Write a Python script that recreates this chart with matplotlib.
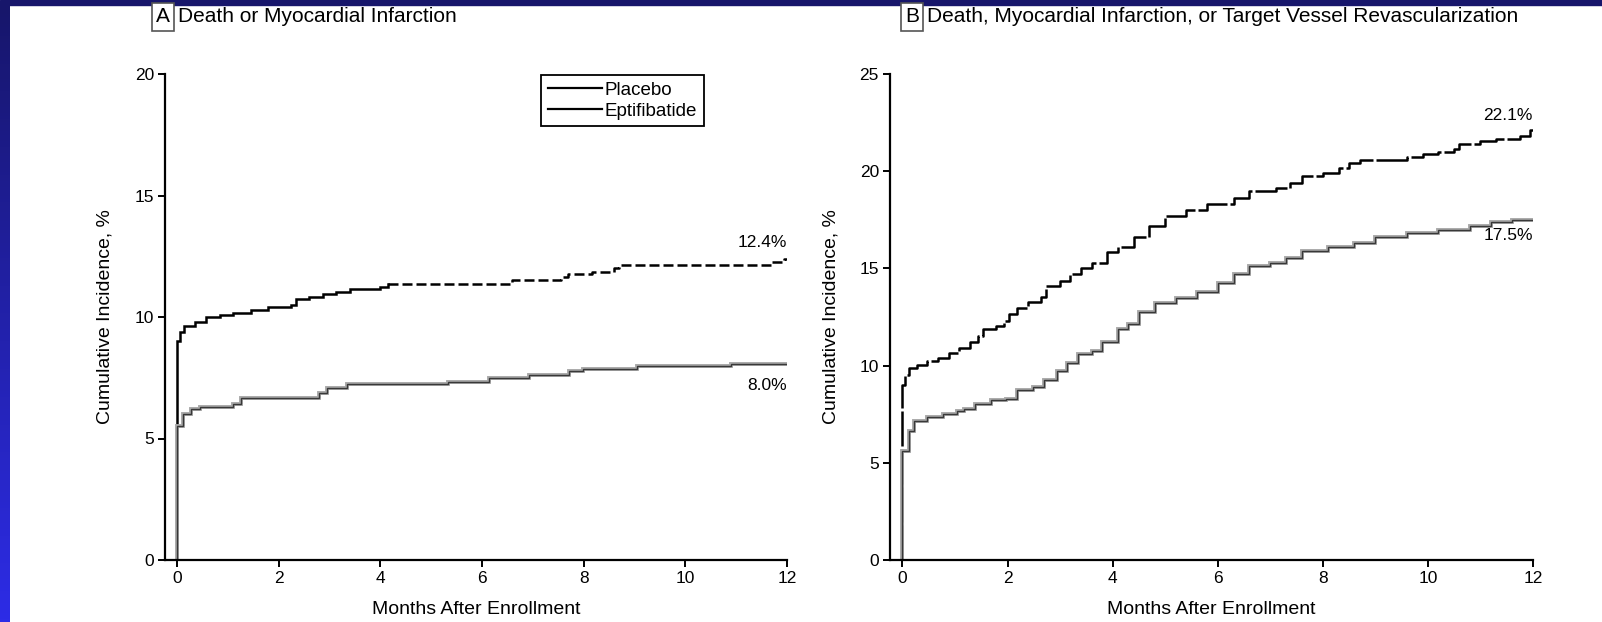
import numpy as np
import matplotlib
matplotlib.use("Agg")
import matplotlib.pyplot as plt
from matplotlib.lines import Line2D
from matplotlib.patches import Rectangle
from matplotlib.colors import LinearSegmentedColormap

plt.rcParams["font.family"] = ["Liberation Sans", "DejaVu Sans"]

# Panel A: death or myocardial infarction (months, cumulative %)
a_placebo_t = [0, 0, 0.05, 0.13, 0.35, 0.57, 0.84, 1.1, 1.46, 1.8, 2.25, 2.34, 2.6, 2.87,
               3.13, 3.4, 4.0, 4.15, 6.6, 7.55, 7.7, 8.16, 8.6, 8.7, 11.7, 11.95, 12.0]
a_placebo_y = [0, 9.0, 9.4, 9.63, 9.8, 10.0, 10.08, 10.18, 10.29, 10.4, 10.49, 10.73, 10.84, 10.95,
               11.04, 11.14, 11.22, 11.35, 11.52, 11.63, 11.77, 11.86, 12.0, 12.15, 12.25, 12.4, 12.4]
a_eptif_t = [0, 0, 0.11, 0.28, 0.45, 1.1, 1.25, 2.8, 2.96, 3.35, 5.34, 6.13, 6.93, 7.72,
             7.99, 9.05, 10.9, 12.0]
a_eptif_y = [0, 5.5, 6.0, 6.2, 6.3, 6.4, 6.65, 6.86, 7.07, 7.24, 7.34, 7.48, 7.61, 7.79,
             7.86, 7.99, 8.05, 8.05]

# Panel B: death, MI, or target vessel revascularization
b_placebo_t = [0, 0, 0.05, 0.12, 0.27, 0.47, 0.67, 0.88, 1.08, 1.28, 1.43, 1.53, 1.78, 1.93,
               2.03, 2.18, 2.39, 2.64, 2.74, 2.99, 3.19, 3.39, 3.6, 3.9, 4.1, 4.4, 4.7, 5.0,
               5.4, 5.8, 6.31, 6.6, 7.1, 7.37, 7.6, 8.0, 8.3, 8.5, 8.7, 9.6, 9.9, 10.2, 10.5,
               10.6, 11.0, 11.3, 11.75, 11.95, 12.0]
b_placebo_y = [0, 9.0, 9.53, 9.88, 10.05, 10.23, 10.4, 10.66, 10.93, 11.19, 11.5, 11.89, 12.03, 12.27,
               12.67, 12.97, 13.29, 13.55, 14.07, 14.34, 14.69, 15.03, 15.3, 15.82, 16.08, 16.6, 17.2, 17.7,
               18.0, 18.3, 18.6, 19.0, 19.13, 19.4, 19.74, 19.9, 20.17, 20.4, 20.6, 20.73, 20.87, 21.0, 21.13,
               21.39, 21.56, 21.65, 21.8, 22.1, 22.1]
b_eptif_t = [0, 0, 0.12, 0.22, 0.47, 0.78, 1.03, 1.18, 1.38, 1.68, 1.98, 2.18, 2.49, 2.69,
             2.94, 3.14, 3.34, 3.6, 3.8, 4.1, 4.3, 4.5, 4.8, 5.2, 5.6, 6.0, 6.31, 6.6, 7.0,
             7.3, 7.6, 8.1, 8.6, 9.0, 9.6, 10.2, 10.8, 11.2, 11.6, 12.0]
b_eptif_y = [0, 5.6, 6.64, 7.17, 7.34, 7.52, 7.69, 7.78, 8.04, 8.22, 8.3, 8.74, 8.92, 9.27,
             9.7, 10.14, 10.58, 10.75, 11.19, 11.89, 12.15, 12.76, 13.2, 13.46, 13.81, 14.25, 14.69, 15.12, 15.3,
             15.56, 15.9, 16.08, 16.3, 16.6, 16.8, 17.0, 17.2, 17.4, 17.5, 17.5]

W, H = 1602, 622
fig = plt.figure(figsize=(W / 100, H / 100), dpi=100)
fig.patch.set_facecolor("white")

# blue slide frame
fig.add_artist(Rectangle((0, 1 - 5 / H), 1, 5 / H, transform=fig.transFigure,
                         color="#17166b", zorder=0))
strip = fig.add_axes([0, 0, 10 / W, 1 - 5 / H])
strip.imshow(np.linspace(0, 1, 200)[:, None], aspect="auto",
             cmap=LinearSegmentedColormap.from_list("frame", ["#17166b", "#2d2ce6"]))
strip.set_axis_off()


def km(ax, t, y, **kw):
    ax.step(t, y, where="post", solid_joinstyle="miter", **kw)


def setup(ax, ymax):
    for s in ("top", "right"):
        ax.spines[s].set_visible(False)
    for s in ("left", "bottom"):
        ax.spines[s].set_linewidth(1.6)
    ax.set_xlim(-0.236, 12)
    ax.set_ylim(0, ymax)
    ax.set_xticks(range(0, 13, 2))
    ax.set_yticks(range(0, ymax + 1, 5))
    ax.tick_params(direction="out", length=5, width=1.4, labelsize=12.5, pad=3)
    ax.set_xlabel("Months After Enrollment", fontsize=14)
    ax.set_ylabel("Cumulative Incidence, %", fontsize=14)
    ax.xaxis.set_label_coords(0.5, -0.085)
    ax.patch.set_alpha(0)


axA = fig.add_axes([165 / W, 62 / H, 622 / W, 486 / H])
axB = fig.add_axes([890 / W, 62 / H, 643 / W, 486 / H])
setup(axA, 20)
setup(axB, 25)
axA.yaxis.set_label_coords(-0.082, 0.5)
axB.yaxis.set_label_coords(-0.078, 0.5)

halo = dict(color="#a8a8a8", lw=2.8)
core = dict(color="#383838", lw=1.0)

# panel A
split = 17
km(axA, a_placebo_t[:split + 1], a_placebo_y[:split + 1], color="black", lw=1.8)
km(axA, a_placebo_t[split:], a_placebo_y[split:], color="black", lw=1.8, ls=(0, (4, 1.6)))
km(axA, a_eptif_t, a_eptif_y, **halo)
km(axA, a_eptif_t, a_eptif_y, **core)
axA.text(12, 13.05, "12.4%", ha="right", va="center", fontsize=12.5)
axA.text(12, 7.2, "8.0%", ha="right", va="center", fontsize=12.5)

# panel B
km(axB, b_placebo_t, b_placebo_y, color="black", lw=1.8, ls=(0, (14, 1.2)))
km(axB, b_eptif_t, b_eptif_y, **halo)
km(axB, b_eptif_t, b_eptif_y, **core)
axB.text(12, 22.85, "22.1%", ha="right", va="center", fontsize=12.5)
axB.text(12, 16.7, "17.5%", ha="right", va="center", fontsize=12.5)

handles = [Line2D([], [], color="black", lw=1.6), Line2D([], [], color="black", lw=1.6)]
leg = axA.legend(handles, ["Placebo", "Eptifibatide"], loc="upper left",
                 bbox_to_anchor=(541 / W, 1 - 75 / H), bbox_transform=fig.transFigure,
                 borderaxespad=0, fancybox=False, framealpha=1, edgecolor="black",
                 fontsize=13.5, handlelength=2.9, handletextpad=0.15, labelspacing=0.2,
                 borderpad=0.35)
leg.get_frame().set_linewidth(1.3)

# panel headings with boxed letters
box = dict(boxstyle="square,pad=0.2", fc="white", ec="#555555", lw=1.2)
for x0, letter, title in [(156, "A", "Death or Myocardial Infarction"),
                          (905, "B", "Death, Myocardial Infarction, or Target Vessel Revascularization")]:
    fig.text(x0 / W, 1 - 17 / H, letter, fontsize=15, va="center", ha="left", bbox=box)
    fig.text((x0 + 22) / W, 1 - 17 / H, title, fontsize=15, va="center", ha="left")

fig.savefig("out.png", dpi=100, facecolor=fig.get_facecolor())
